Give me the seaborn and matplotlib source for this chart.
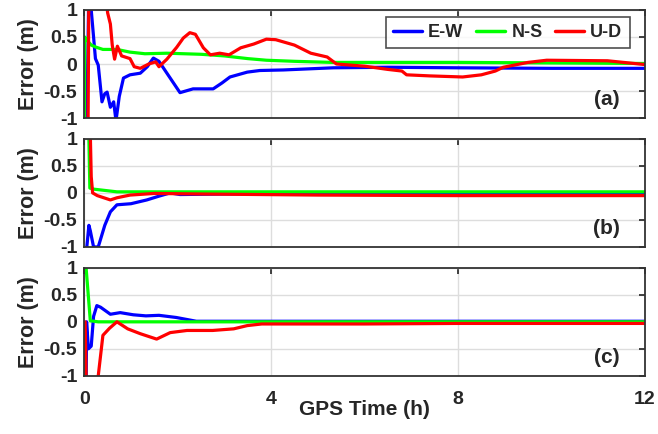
import matplotlib
matplotlib.use("Agg")
import matplotlib.pyplot as plt
import seaborn as sns
import pandas as pd

# panel (a)
ew_a_t = [0, 0.05, 0.1, 0.13, 0.24, 0.3, 0.38, 0.44, 0.49, 0.56, 0.63, 0.68, 0.75, 0.84, 0.98, 1.2, 1.35,
          1.48, 1.6, 1.77, 2.05, 2.33, 2.76, 2.95, 3.12, 3.49, 3.76, 4.26, 5.33, 6.5, 8, 10, 12]
ew_a_v = [-1.5, -1.5, 1.5, 1.2, 0.1, -0.02, -0.7, -0.55, -0.52, -0.8, -0.7, -1.05, -0.6, -0.26, -0.2, -0.17, -0.05,
          0.11, 0.05, -0.17, -0.53, -0.46, -0.46, -0.35, -0.24, -0.15, -0.12, -0.11, -0.07, -0.06, -0.07, -0.08, -0.08]
ns_a_t = [0, 0.01, 0.05, 0.15, 0.26, 0.4, 0.7, 0.98, 1.3, 1.77, 2.5, 3.0, 3.5, 3.9, 4.5, 5.3, 6.5, 8, 10, 12]
ns_a_v = [-1.5, 0.5, 0.45, 0.35, 0.31, 0.27, 0.27, 0.22, 0.19, 0.2, 0.18, 0.15, 0.1, 0.07, 0.05, 0.03, 0.03, 0.03, 0.02, 0.01]
ud_a_t = [0, 0.08, 0.1, 0.45, 0.5, 0.56, 0.6, 0.65, 0.71, 0.8, 0.98, 1.07, 1.2, 1.38, 1.53, 1.6, 1.77, 1.98, 2.12,
          2.26, 2.38, 2.55, 2.7, 2.9, 3.1, 3.35, 3.63, 3.9, 4.1, 4.5, 4.85, 5.2, 5.4, 6.0, 6.5, 6.8, 6.9, 7.4, 8.1,
          8.5, 8.8, 8.97, 9.5, 9.9, 11.2, 12]
ud_a_v = [-1.5, -1.5, 1.5, 1.5, 0.95, 0.74, 0.35, 0.09, 0.33, 0.15, 0.1, -0.05, -0.08, 0.0, 0.04, -0.05, 0.09, 0.31, 0.48,
          0.58, 0.55, 0.3, 0.17, 0.2, 0.17, 0.3, 0.37, 0.46, 0.45, 0.35, 0.2, 0.13, 0.0, -0.04, -0.1, -0.13, -0.2, -0.22, -0.24,
          -0.2, -0.13, -0.06, 0.03, 0.07, 0.06, -0.01]

# panel (b)
ew_b_t = [0, 0.1, 0.13, 0.2, 0.25, 0.3, 0.44, 0.56, 0.7, 1.0, 1.34, 1.6, 1.84, 2.05, 3, 5, 8, 12]
ew_b_v = [-1.5, -0.6, -0.7, -1.0, -1.0, -1.0, -0.6, -0.35, -0.22, -0.2, -0.13, -0.06, 0.0, -0.03, -0.02, -0.01, -0.01, -0.01]
ns_b_t = [0, 0.1, 0.12, 0.2, 0.3, 0.7, 2, 12]
ns_b_v = [1.5, 1.0, 0.09, 0.07, 0.06, 0.02, 0.02, 0.02]
ud_b_t = [0.12, 0.15, 0.18, 0.28, 0.56, 0.7, 0.98, 1.5, 2.5, 5, 8, 12]
ud_b_v = [1.5, 0.3, 0.0, -0.05, -0.13, -0.09, -0.04, -0.01, -0.02, -0.04, -0.05, -0.05]

# panel (c)
ew_c_t = [0.04, 0.05, 0.09, 0.15, 0.2, 0.27, 0.35, 0.56, 0.77, 1.05, 1.32, 1.6, 1.97, 2.4, 4, 8, 12]
ew_c_v = [-1.5, 0.0, -0.5, -0.45, 0.1, 0.3, 0.27, 0.14, 0.17, 0.13, 0.11, 0.12, 0.08, 0.01, 0.01, 0.01, 0.01]
ns_c_t = [0, 0.04, 0.13, 0.3, 6, 12]
ns_c_v = [1.5, 1.0, 0.02, 0.0, 0.0, 0.0]
ud_c_t = [0.02, 0.05, 0.3, 0.4, 0.54, 0.7, 0.93, 1.2, 1.55, 1.84, 2.2, 2.75, 3.2, 3.49, 3.8, 6, 8, 12]
ud_c_v = [0.0, -1.5, -1.0, -0.25, -0.12, 0.0, -0.13, -0.22, -0.32, -0.2, -0.16, -0.16, -0.13, -0.07, -0.04, -0.04, -0.03, -0.03]

panels = [
    ("(a)", [(ew_a_t, ew_a_v), (ns_a_t, ns_a_v), (ud_a_t, ud_a_v)]),
    ("(b)", [(ew_b_t, ew_b_v), (ns_b_t, ns_b_v), (ud_b_t, ud_b_v)]),
    ("(c)", [(ew_c_t, ew_c_v), (ns_c_t, ns_c_v), (ud_c_t, ud_c_v)]),
]
names = ["E-W", "N-S", "U-D"]
colors = ["#0000ff", "#00ff00", "#ff0000"]

sns.set_style("white")
plt.rcParams["font.family"] = ["Liberation Sans", "DejaVu Sans"]
plt.rcParams["font.weight"] = "bold"

fig = plt.figure(figsize=(6.58, 4.34), dpi=100)
left, width = 0.128, 0.852
bottoms = [0.728, 0.431, 0.134]
height = 0.249

for i, (tag, series) in enumerate(panels):
    ax = fig.add_axes([left, bottoms[i], width, height])
    for (t, v), name, c in zip(series, names, colors):
        df = pd.DataFrame({"t": t, "v": v})
        sns.lineplot(data=df, x="t", y="v", ax=ax, color=c, lw=2.3, label=name,
                     estimator=None, sort=False)
    ax.set_xlim(0, 12)
    ax.set_ylim(-1, 1)
    ax.set_xticks([0, 4, 8, 12])
    ax.set_yticks([-1, -0.5, 0, 0.5, 1])
    ax.set_yticklabels(["-1", "-0.5", "0", "0.5", "1"])
    ax.grid(True, color="#dddddd", lw=1)
    ax.tick_params(direction="in", top=True, right=True, length=4, width=1.2,
                   labelsize=14, color="#222222")
    ax.tick_params(axis="y", pad=5)
    ax.tick_params(axis="x", pad=11)
    for s in ax.spines.values():
        s.set_color("#333333")
        s.set_linewidth(1.3)
    ax.set_ylabel("Error (m)", fontsize=15.5, fontweight="bold", labelpad=3)
    ax.text(0.955, 0.08, tag, transform=ax.transAxes, ha="right", va="bottom",
            fontsize=15, fontweight="bold")
    if i < 2:
        ax.set_xticklabels([])
        ax.set_xlabel("")
    else:
        ax.set_xlabel("GPS Time (h)", fontsize=15, fontweight="bold", labelpad=-6)
    if i == 0:
        leg = ax.legend(loc="upper right", ncol=3, fontsize=13, frameon=True,
                        fancybox=False, edgecolor="#222222", handlelength=1.6,
                        handletextpad=0.35, columnspacing=0.7, borderpad=0.4,
                        borderaxespad=0.0, bbox_to_anchor=(0.973, 0.935))
        leg.get_frame().set_linewidth(1.2)
        for line in leg.get_lines():
            line.set_linewidth(2.5)
    else:
        ax.get_legend().remove()

fig.savefig("out.png", dpi=100)
